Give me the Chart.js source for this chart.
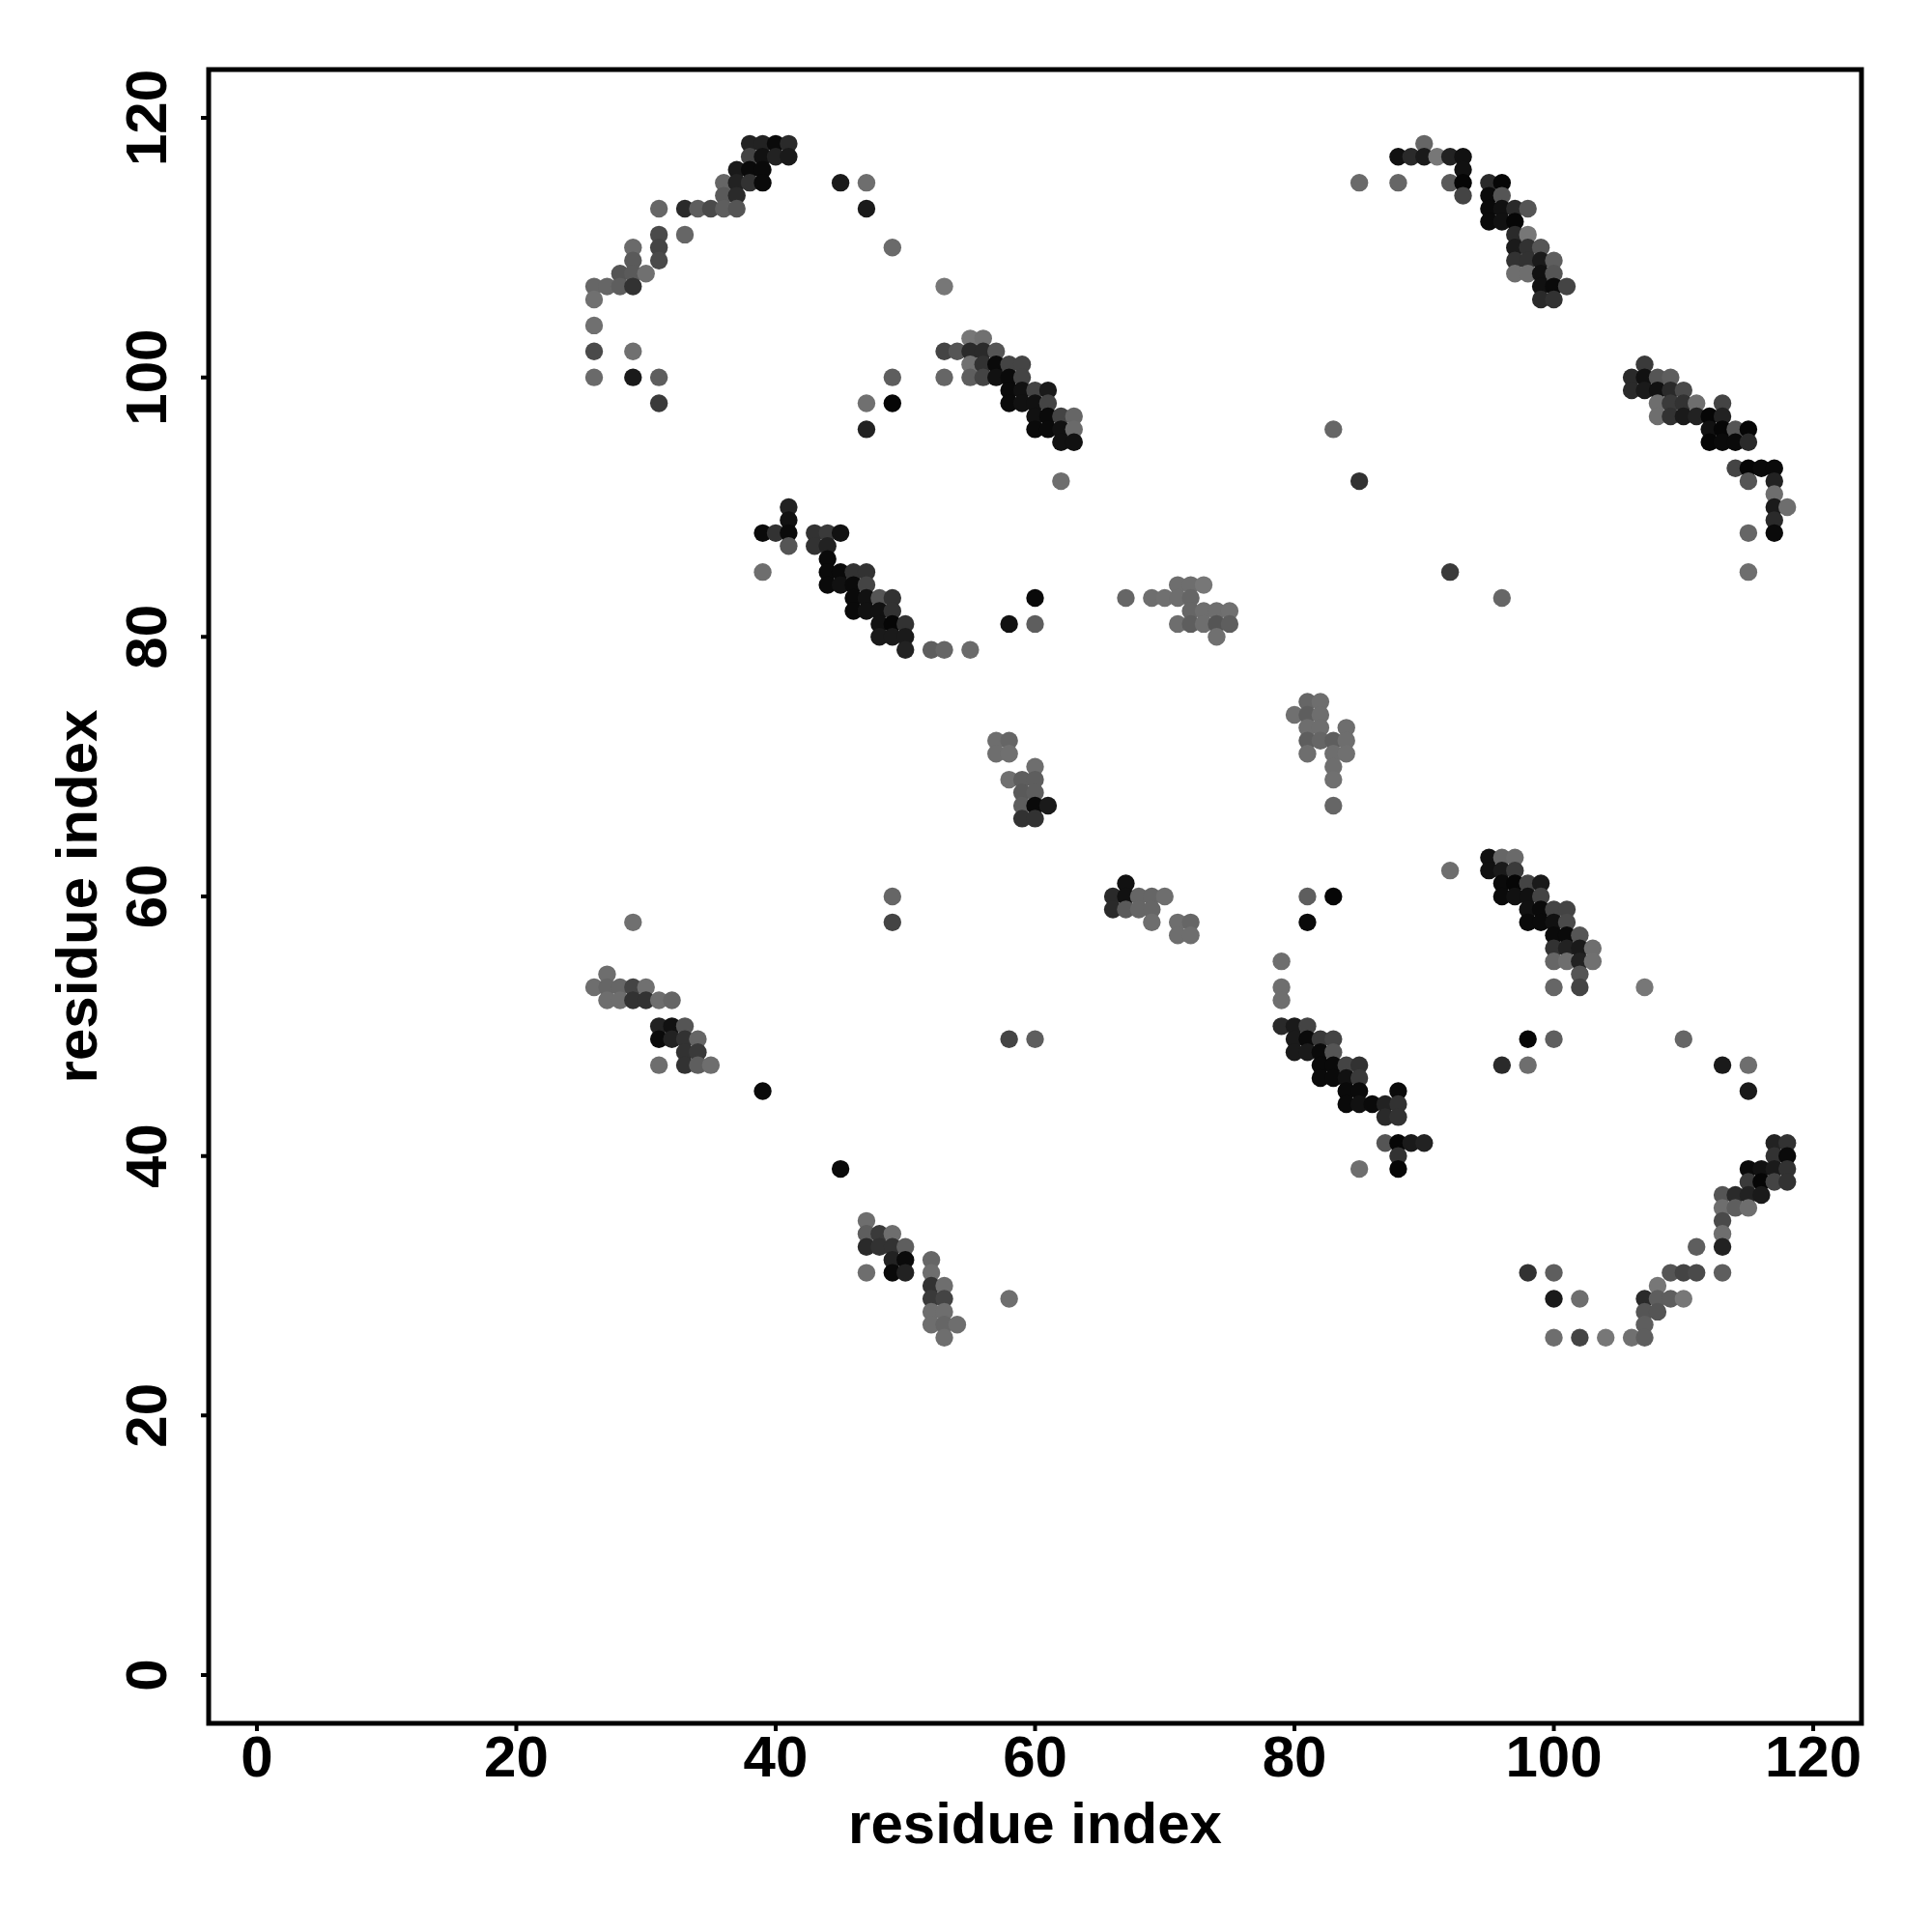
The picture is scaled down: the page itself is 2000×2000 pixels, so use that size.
<!DOCTYPE html>
<html>
<head>
<meta charset="utf-8">
<script src="https://cdn.jsdelivr.net/npm/chart.js@4/dist/chart.umd.min.js"></script>
<style>
  html, body { margin: 0; padding: 0; background: #ffffff; }
  #wrap { width: 2000px; height: 2000px; }
</style>
</head>
<body>
<div id="wrap"><canvas id="c" width="2000" height="2000"></canvas></div>
<script>
// ---- data: [residue i, residue j, contact strength 0..1] ----
const clusterA = [[38,118,.72],[39,118,.72],[40,118,.92],[41,118,.65],
  [38,117,.43],[39,117,.86],[40,117,.72],[41,117,.78],
  [37,116,.78],[38,116,.92],[39,116,.92],
  [36,115,.15],[37,115,.72],[38,115,.58],[39,115,.92],
  [36,114,.25],[37,114,.65],
  [31,113,.15],[33,113,.65],[34,113,.22],[35,113,.38],[36,113,.22],[37,113,.29],
  [31,111,.38],[33,111,.15],
  [29,110,.12],[31,110,.43],
  [29,109,.25],[31,109,.38],
  [28,108,.29],[29,108,.25],[30,108,.07],
  [26,107,.15],[27,107,.15],[28,107,.22],[29,107,.58],
  [26,106,.07],[26,104,.07],
  [26,102,.38],[29,102,.07],
  [26,100,.12],[29,100,.78],[31,100,.22],
  [31,98,.52]];
const scatterA = [[45,115,.78],[47,115,.08],[47,113,.78],[49,110,.12],[53,107,.01],
  [47,98,.07],[49,98,.95],[47,96,.72],[49,100,.22]];
const clusterB = [[55,103,.01],[56,103,.07],
  [53,102,.43],[54,102,.29],[55,102,.65],[56,102,.65],[57,102,.29],
  [55,101,.07],[56,101,.58],[57,101,.92],[58,101,.43],[59,101,.43],
  [53,100,.15],[55,100,.22],[56,100,.43],[57,100,.86],[58,100,.92],[59,100,.43],
  [58,99,.92],[59,99,.86],[60,99,.43],[61,99,.78],
  [58,98,.92],[59,98,.86],[60,98,.86],[61,98,.43],
  [60,97,.86],[61,97,.92],[62,97,.43],[63,97,.15],
  [60,96,.92],[61,96,.92],[62,96,.86],[63,96,.12],
  [62,95,.86],[63,95,.86],
  [62,92,.08]];
const scatterB = [[85,115,.12],[83,96,.15],[85,92,.58]];
const clusterC = [[90,118,.15],
  [88,117,.86],[89,117,.65],[90,117,.78],[91,117,.01],[92,117,.72],[93,117,.86],
  [93,116,.86],
  [88,115,.15],[92,115,.25],[93,115,.95],[95,115,.65],[96,115,.95],
  [93,114,.43],[95,114,.92],[96,114,.29],
  [95,113,.92],[96,113,.86],[97,113,.65],[98,113,.29],
  [95,112,.92],[96,112,.86],[97,112,.95],
  [97,111,.65],[98,111,.01],
  [97,110,.78],[98,110,.58],[99,110,.29],
  [97,109,.58],[98,109,.58],[99,109,.78],[100,109,.22],
  [97,108,.08],[98,108,.08],[99,108,.86],[100,108,.29],
  [99,107,.86],[100,107,.92],[101,107,.43],
  [99,106,.65],[100,106,.58]];
const clusterD = [[107,101,.52],
  [106,100,.65],[107,100,.86],[108,100,.29],[109,100,.22],
  [106,99,.65],[107,99,.78],[108,99,.86],[109,99,.65],[110,99,.38],
  [108,98,.08],[109,98,.52],[110,98,.58],[111,98,.08],[113,98,.43],
  [108,97,.08],[109,97,.58],[110,97,.78],[111,97,.72],[112,97,.95],[113,97,.72],
  [112,96,.86],[113,96,.95],[114,96,.29],[115,96,.95],
  [112,95,.95],[113,95,.92],[114,95,.92],[115,95,.65],
  [114,93,.43],[115,93,.95],[116,93,.92],[117,93,.92],
  [115,92,.29],[117,92,.72],
  [117,91,.08],
  [117,90,.78],[118,90,.08],
  [117,89,.65],
  [115,88,.15],[117,88,.92],
  [115,85,.08]];
const clusterE = [[41,90,.72],[41,89,.86],
  [39,88,.92],[40,88,.58],[41,88,.92],[43,88,.58],[44,88,.52],[45,88,.86],
  [41,87,.29],[43,87,.58],[44,87,.72],
  [44,86,.92],
  [44,85,.92],[45,85,.92],[46,85,.58],[47,85,.58],
  [44,84,.92],[45,84,.86],[46,84,.92],[47,84,.43],
  [46,83,.92],[47,83,.86],[48,83,.29],[49,83,.58],
  [46,82,.92],[47,82,.86],[48,82,.86],[49,82,.58],
  [48,81,.86],[49,81,.95],[50,81,.58],
  [48,80,.78],[49,80,.78],[50,80,.78],
  [50,79,.72],[52,79,.22],[53,79,.15],[55,79,.12],
  [39,85,.08]];
const scatterE = [[60,83,.92],[58,81,.86],[60,81,.22]];
const clusterF = [[67,83,.15],
  [71,84,.08],[72,84,.08],[73,84,.01],
  [69,83,.08],[70,83,.07],[71,83,.08],[72,83,.15],
  [72,82,.15],[73,82,.08],[74,82,.08],[75,82,.07],
  [71,81,.08],[72,81,.22],[73,81,.08],[74,81,.29],[75,81,.22],
  [74,80,.07]];
const clusterG = [[57,72,.08],[58,72,.15],
  [57,71,.08],[58,71,.07],
  [60,70,.08],
  [58,69,.07],[59,69,.22],[60,69,.22],
  [59,68,.25],[60,68,.22],
  [59,67,.22],[60,67,.92],[61,67,.78],
  [59,66,.58],[60,66,.58]];
const clusterH = [[81,75,.15],[82,75,.08],
  [80,74,.07],[81,74,.22],[82,74,.08],
  [81,73,.08],[82,73,.08],[84,73,.08],
  [81,72,.22],[82,72,.15],[83,72,.22],[84,72,.08],
  [81,71,.08],[83,71,.08],[84,71,.07],
  [83,70,.08],[83,69,.07],[83,67,.15]];
const clusterI = [[67,61,.86],
  [66,60,.65],[67,60,.86],[68,60,.15],[69,60,.15],[70,60,.08],
  [66,59,.65],[67,59,.25],[68,59,.15],[69,59,.15],
  [69,58,.08],[71,58,.08],[72,58,.15],
  [71,57,.08],[72,57,.08]];
const scatterMid = [[49,60,.15],[49,58,.43],[29,58,.07],[81,60,.22],[83,60,.95],[81,58,.92],
  [92,62,.08],[92,85,.52],[96,83,.15]];
const clusterJ = [[95,63,.86],[96,63,.15],[97,63,.12],
  [95,62,.86],[96,62,.78],[97,62,.52],
  [96,61,.92],[97,61,.95],[98,61,.43],[99,61,.78],
  [96,60,.92],[97,60,.86],[98,60,.86],[99,60,.43],
  [98,59,.86],[99,59,.92],[100,59,.43],[101,59,.43],
  [98,58,.92],[99,58,.92],[100,58,.86],[101,58,.38],
  [100,57,.92],[101,57,.92],[102,57,.29],
  [100,56,.58],[101,56,.72],[102,56,.78],[103,56,.08],
  [100,55,.15],[101,55,.08],[102,55,.72],[103,55,.07],
  [102,54,.29],
  [100,53,.15],[102,53,.43],[107,53,.01]];
const scatterJ = [[98,49,.95],[100,49,.22],[110,49,.15],[96,47,.65],[98,47,.08],
  [113,47,.78],[115,47,.08],[115,45,.78]];
const clusterK = [[27,54,.08],
  [26,53,.08],[27,53,.15],[28,53,.15],[29,53,.43],[30,53,.07],
  [27,52,.08],[28,52,.08],[29,52,.58],[30,52,.58],[31,52,.08],[32,52,.15],
  [31,50,.72],[32,50,.86],[33,50,.29],
  [31,49,.92],[32,49,.72],[33,49,.58],[34,49,.15],
  [33,48,.58],[34,48,.52],
  [31,47,.08],[33,47,.58],[34,47,.22],[35,47,.08]];
const scatterK = [[39,45,.92],[45,39,.92],[58,49,.43],[60,49,.22],[58,29,.08]];
const clusterL = [[79,55,.08],[79,53,.08],[79,52,.08],
  [79,50,.65],[80,50,.78],[81,50,.43],
  [80,49,.78],[81,49,.92],[82,49,.52],[83,49,.43],
  [80,48,.78],[81,48,.78],[82,48,.92],[83,48,.29],
  [82,47,.92],[83,47,.92],[84,47,.43],[85,47,.58],
  [82,46,.92],[83,46,.92],[84,46,.86],[85,46,.52],
  [84,45,.92],[85,45,.92],[88,45,.92],
  [84,44,.92],[85,44,.86],[86,44,.92],[87,44,.72],[88,44,.58],
  [87,43,.65],[88,43,.58],
  [87,41,.29],[88,41,.95],[89,41,.78],[90,41,.72],
  [88,40,.58],[88,39,.95],[85,39,.08]];
const clusterM = [[117,41,.72],[118,41,.58],
  [117,40,.58],[118,40,.92],
  [115,39,.92],[116,39,.86],[117,39,.78],[118,39,.58],
  [115,38,.52],[116,38,.95],[117,38,.43],[118,38,.58],
  [113,37,.29],[114,37,.65],[115,37,.72],[116,37,.78],
  [113,36,.08],[114,36,.22],[115,36,.08],
  [113,35,.38],[113,34,.08],
  [111,33,.22],[113,33,.72],
  [98,31,.58],[100,31,.22],[109,31,.29],[110,31,.43],[111,31,.38],[113,31,.22],
  [108,30,.01],
  [100,29,.78],[102,29,.08],[107,29,.65],[108,29,.22],[109,29,.22],[110,29,.01],
  [107,28,.29],[108,28,.29],
  [107,27,.22],
  [100,26,.08],[102,26,.43],[104,26,.01],[106,26,.07],[107,26,.22]];
const clusterN = [[47,35,.08],
  [47,34,.22],[48,34,.52],[49,34,.08],
  [47,33,.65],[48,33,.58],[49,33,.58],[50,33,.22],
  [49,32,.72],[50,32,.92],[52,32,.15],
  [47,31,.08],[49,31,.92],[50,31,.72],[52,31,.08],
  [52,30,.58],[53,30,.08],
  [52,29,.52],[53,29,.43],
  [52,28,.08],[53,28,.08],
  [52,27,.08],[53,27,.15],[54,27,.08],
  [53,26,.08]];

const tickValues = [0, 20, 40, 60, 80, 100, 120];
const tickLabels = ["0", "20", "40", "60", "80", "100", "120"];
const xTitle = "residue index";
const yTitle = "residue index";

// ---- build ----
const contacts = [].concat(clusterA, scatterA, clusterB, scatterB, clusterC, clusterD,
  clusterE, scatterE, clusterF, clusterG, clusterH, clusterI, scatterMid,
  clusterJ, scatterJ, clusterK, scatterK, clusterL, clusterM, clusterN);

function greyFor(s) {
  const g = Math.round(120 * (1 - s));
  return `rgb(${g},${g},${g})`;
}

const points = contacts.map(c => ({ x: c[0], y: c[1] }));
const colors = contacts.map(c => greyFor(c[2]));

const FONT = 'bold 60px "Liberation Sans", Arial, Helvetica, sans-serif';

const framePlugin = {
  id: 'rframe',
  afterDraw(chart) {
    const ctx = chart.ctx;
    const a = chart.chartArea;
    const xs = chart.scales.x, ys = chart.scales.y;
    ctx.save();
    // box
    ctx.strokeStyle = '#000';
    ctx.lineWidth = 5;
    ctx.lineJoin = 'miter';
    ctx.strokeRect(a.left, a.top, a.right - a.left, a.bottom - a.top);
    // ticks
    ctx.lineWidth = 4;
    ctx.beginPath();
    tickValues.forEach(v => {
      const px = xs.getPixelForValue(v);
      ctx.moveTo(px, a.bottom);
      ctx.lineTo(px, a.bottom + 8);
      const py = ys.getPixelForValue(v);
      ctx.moveTo(a.left, py);
      ctx.lineTo(a.left - 8, py);
    });
    ctx.stroke();
    // tick labels
    ctx.fillStyle = '#000';
    ctx.font = FONT;
    ctx.textAlign = 'center';
    ctx.textBaseline = 'alphabetic';
    tickValues.forEach((v, i) => {
      ctx.fillText(tickLabels[i], xs.getPixelForValue(v), 1839);
    });
    tickValues.forEach((v, i) => {
      ctx.save();
      ctx.translate(172, ys.getPixelForValue(v));
      ctx.rotate(-Math.PI / 2);
      ctx.fillText(tickLabels[i], 0, 0);
      ctx.restore();
    });
    // axis titles
    ctx.fillText(xTitle, (a.left + a.right) / 2, 1908);
    ctx.save();
    ctx.translate(100, (a.top + a.bottom) / 2);
    ctx.rotate(-Math.PI / 2);
    ctx.fillText(yTitle, 0, 0);
    ctx.restore();
    ctx.restore();
  }
};

new Chart(document.getElementById('c'), {
  type: 'scatter',
  data: {
    datasets: [{
      data: points,
      pointBackgroundColor: colors,
      pointBorderWidth: 0,
      pointBorderColor: 'rgba(0,0,0,0)',
      pointRadius: 9.2,
      pointHoverRadius: 9.2,
      showLine: false
    }]
  },
  options: {
    responsive: false,
    maintainAspectRatio: false,
    devicePixelRatio: 1,
    animation: false,
    layout: { padding: { left: 216, right: 73, top: 72, bottom: 216 } },
    plugins: { legend: { display: false }, tooltip: { enabled: false } },
    scales: {
      x: { type: 'linear', min: -3.72, max: 123.72, display: false },
      y: { type: 'linear', min: -3.72, max: 123.72, display: false }
    }
  },
  plugins: [framePlugin]
});
</script>
</body>
</html>
